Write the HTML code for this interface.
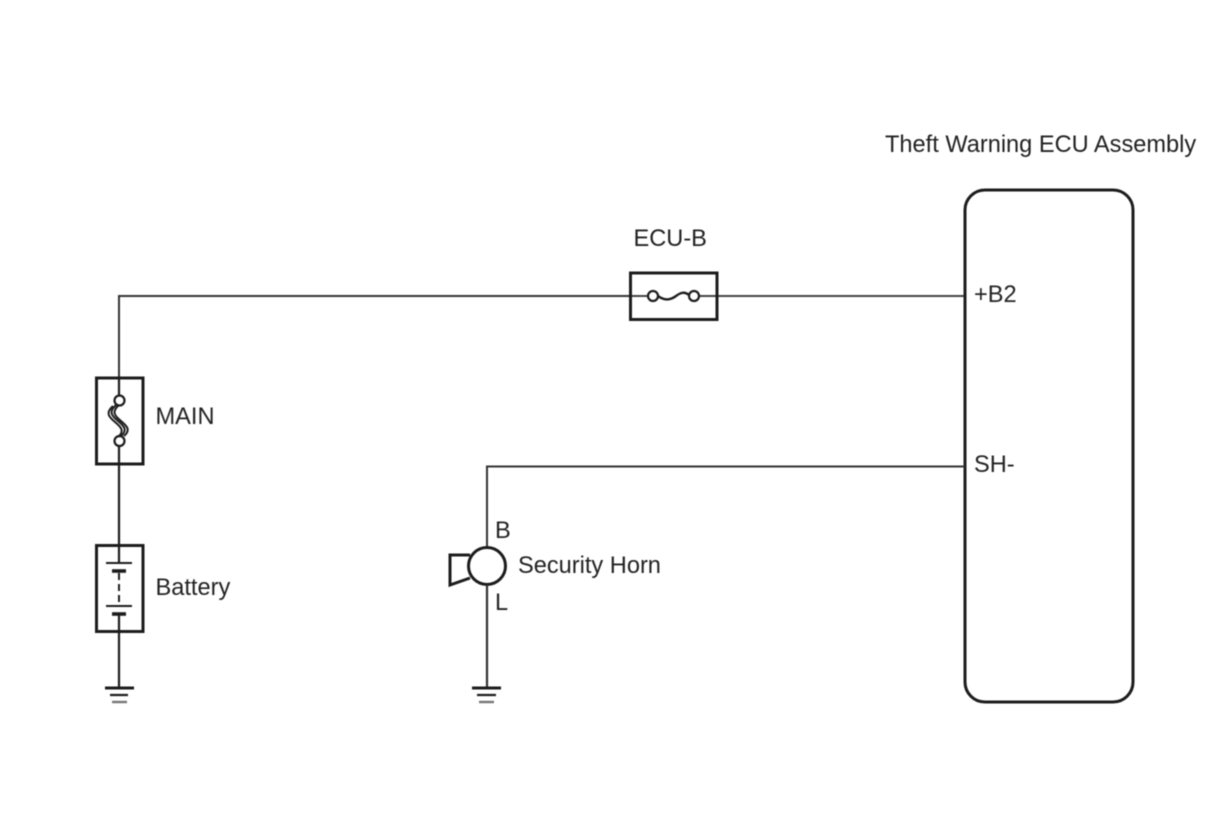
<!DOCTYPE html>
<html>
<head>
<meta charset="utf-8">
<style>
html,body{margin:0;padding:0;background:#fff;width:1210px;height:814px;overflow:hidden}
svg{display:block;filter:blur(0.5px)}
text{font-family:"Liberation Sans",sans-serif;font-size:23.6px;fill:#222}
</style>
</head>
<body>
<svg width="1210" height="814" viewBox="0 0 1210 814" xmlns="http://www.w3.org/2000/svg">
<g fill="none" stroke="#1c1c1c" stroke-width="2.2">
  <!-- top wire -->
  <path d="M119 378V296H630" stroke="#333" stroke-width="2"/>
  <path d="M717 296H965" stroke="#444" stroke-width="2"/>
  <path d="M630 296H648M699 296H717" stroke="#444" stroke-width="2"/>
  <!-- ECU -->
  <rect x="965" y="190" width="168" height="512" rx="20" ry="20" stroke-width="3"/>
  <!-- ECU-B fuse -->
  <rect x="630.500" y="273" width="86.500" height="46.500" stroke-width="3"/>
  <circle cx="653" cy="296" r="5" stroke-width="2.200"/>
  <circle cx="694" cy="296" r="5" stroke-width="2.200"/>
  <path d="M658 296C666 302 672 299 676 296C680 293 684 291 689 295" stroke-width="2.400"/>
  <!-- MAIN fuse -->
  <rect x="96.500" y="378" width="46.500" height="86" stroke-width="3"/>
  <path d="M119 378V396M119 445V546"/>
  <circle cx="119.500" cy="400.500" r="5" stroke-width="2.200"/>
  <circle cx="119.500" cy="441" r="5" stroke-width="2.200"/>
  <path d="M116 405C108 412 112 416 118 421C124 426 128 430 121 436" stroke-width="2"/>
  <path d="M119 405C111 412 115 416 121 421C127 426 131 430 124 436" stroke-width="2"/>
  <path d="M113 406C105 413 109 417 115 422C121 427 125 431 118 437" stroke-width="2"/>
  <!-- Battery -->
  <rect x="96.500" y="545.500" width="46.500" height="86" stroke-width="3"/>
  <path d="M119 546V563M119 615V688"/>
  <path d="M106 563H132" stroke-width="2"/>
  <path d="M112 571H126" stroke-width="3.600"/>
  <path d="M119 573V606" stroke-width="2" stroke-dasharray="7 4"/>
  <path d="M106 606H132" stroke-width="2"/>
  <path d="M112 614H126" stroke-width="3.600"/>
  <!-- Ground 1 -->
  <path d="M105 688H134" stroke-width="3"/>
  <path d="M110 695H128" stroke-width="2.200"/>
  <path d="M112 702H127" stroke="#777" stroke-width="2.400"/>
  <!-- SH wire -->
  <path d="M965 466.500H487V547" stroke="#333" stroke-width="2"/>
  <!-- Horn -->
  <circle cx="487" cy="566" r="18.500" stroke-width="3"/>
  <path d="M470 555H450V585L470 578" stroke-width="3"/>
  <path d="M487 585V688" stroke="#333"/>
  <!-- Ground 2 -->
  <path d="M472 688H501" stroke-width="3"/>
  <path d="M477 695H496" stroke-width="2.200"/>
  <path d="M479 702H494" stroke="#777" stroke-width="2.400"/>
</g>
<text x="885" y="152">Theft Warning ECU Assembly</text>
<text x="633.500" y="246">ECU-B</text>
<text x="974" y="302">+B2</text>
<text x="974" y="472">SH-</text>
<text x="155.500" y="424">MAIN</text>
<text x="155.500" y="595">Battery</text>
<text x="495" y="538">B</text>
<text x="495" y="610">L</text>
<text x="518" y="573">Security Horn</text>
</svg>
</body>
</html>
